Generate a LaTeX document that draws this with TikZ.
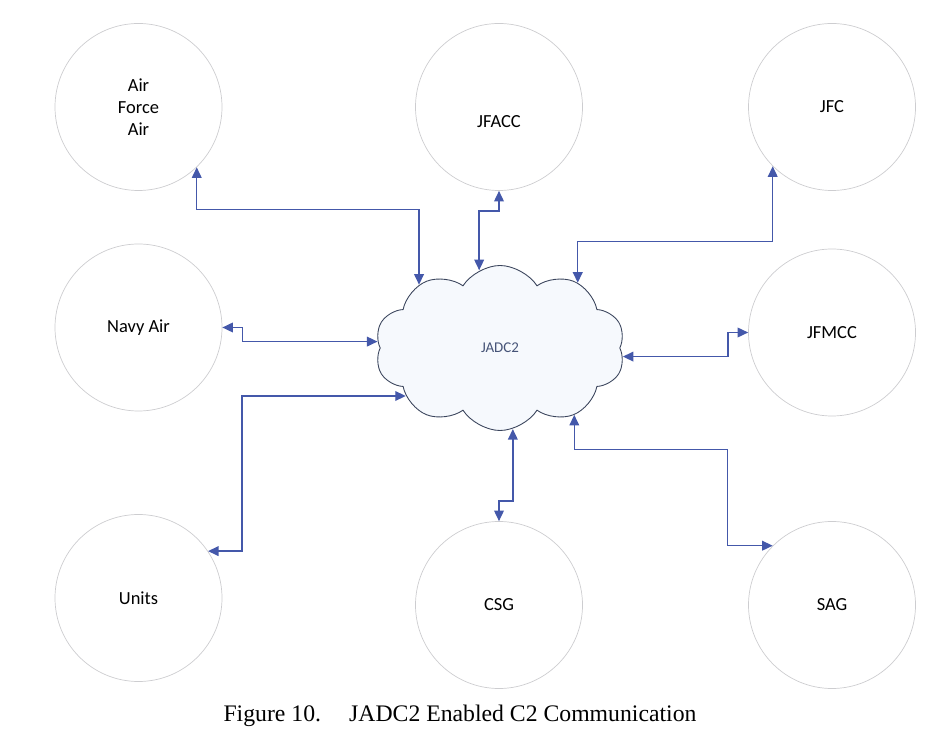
\documentclass[tikz,border=0pt]{standalone}
\usepackage{fontspec}
\setmainfont{Liberation Serif}
\newfontfamily\carlito{Carlito}
\usetikzlibrary{arrows.meta,positioning,shapes.symbols}

\definecolor{linkblue}{RGB}{68,88,170}
\definecolor{ringgray}{RGB}{205,205,208}
\definecolor{cloudline}{RGB}{58,68,92}
\definecolor{cloudfill}{RGB}{246,249,253}
\definecolor{cloudtext}{RGB}{70,84,120}

\begin{document}
\begin{tikzpicture}[
  font=\carlito\fontsize{10.5}{12.5}\selectfont,
  hub/.style={draw=ringgray, circle, line width=0.4pt, minimum size=3.34cm,
              inner sep=0pt, align=center},
  core/.style={cloud, cloud puffs=10, cloud puff arc=115, aspect=1.5,
               draw=cloudline, fill=cloudfill, line width=0.5pt,
               minimum width=5cm, minimum height=3.3cm,
               text=cloudtext, font=\carlito\fontsize{8.5}{10}\selectfont},
  link/.style={{Triangle[length=6pt,width=5.5pt]}-{Triangle[length=6pt,width=5.5pt]},
               draw=linkblue, line width=0.8pt},
]
\useasboundingbox (0,0) rectangle (18.94,-14.82);
% outer nodes
\node[hub] (afa) at (2.77,-2.14) {Air\\Force\\Air};
\node[hub, label={[yshift=-0.3cm]center:JFACC}] (jfacc) at (9.98,-2.14) {};
\node[hub] (jfc) at (16.64,-2.14) {JFC};
\node[hub] (navy) at (2.77,-6.55) {Navy Air};
\node[hub] (jfmcc) at (16.64,-6.65) {JFMCC};
\node[hub] (units) at (2.77,-11.96) {Units};
\node[hub] (csg) at (9.98,-12.1) {CSG};
\node[hub] (sag) at (16.64,-12.1) {SAG};
% centre
\node[core] (jadc2) at (10.0,-6.96) {JADC2};
% connectors
\draw[link] (afa.-46) -- ++(0,-0.84) -| (jadc2.142);
\draw[link] (jfacc.south) -- ++(0,-0.4) -| (jadc2.105);
\draw[link] (jfc.-135) -- ++(0,-1.5) -| (jadc2.40);
\draw[link] (navy.east) -- ++(0.4,0) |- (jadc2.177);
\draw[link] (units.34) -- ++(0.68,0) |- (jadc2.207);
\draw[link] (jfmcc.west) -- ++(-0.4,0) |- (jadc2.356);
\draw[link] (csg.north) -- ++(0,0.4) -| (jadc2.279);
\draw[link] (sag.135) -- ++(-0.9,0) -- ++(0,1.92) -| (jadc2.318);
% caption
\node[font=\fontsize{13.5}{16}\selectfont] (caption) at (9.2,-14.32)
  {Figure 10.\hspace{16pt}JADC2 Enabled C2 Communication};
\end{tikzpicture}
\end{document}
